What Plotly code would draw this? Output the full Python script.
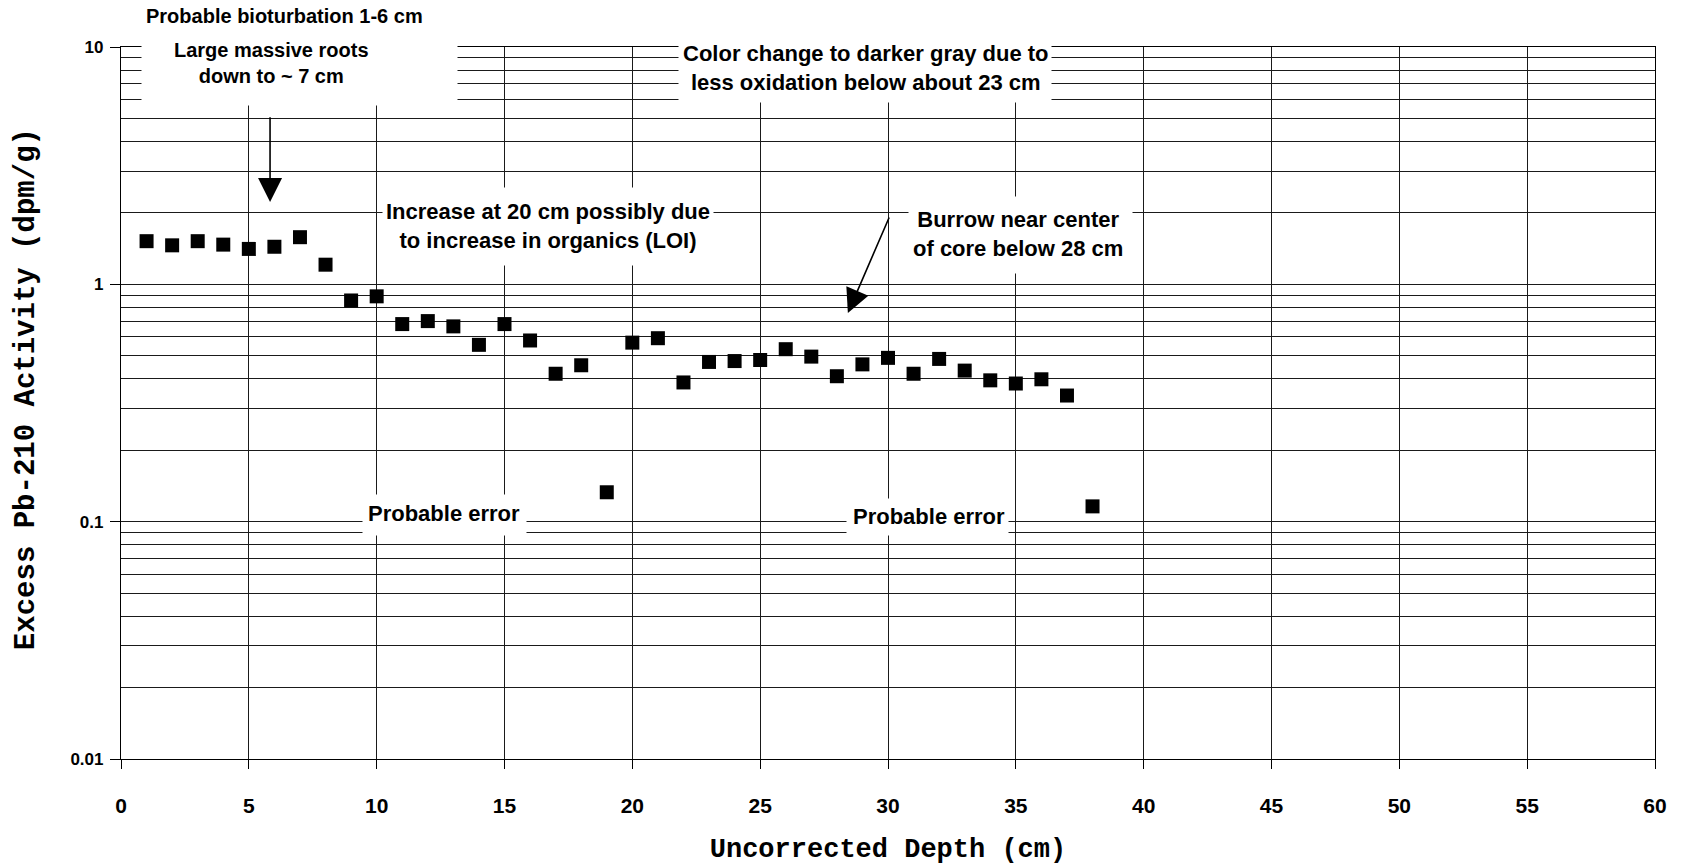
import plotly.graph_objects as go

# ---- data ----
depth_cm = list(range(1, 39))
excess_pb210 = [1.52, 1.46, 1.52, 1.47, 1.41, 1.44, 1.58, 1.21, 0.855, 0.89,
                0.68, 0.70, 0.665, 0.556, 0.68, 0.58, 0.42, 0.456, 0.133, 0.568,
                0.593, 0.386, 0.471, 0.475, 0.48, 0.533, 0.496, 0.41, 0.46, 0.49,
                0.42, 0.485, 0.433, 0.394, 0.382, 0.398, 0.34, 0.116]

y_major_vals = [0.01, 0.1, 1, 10]
y_major_text = ["0.01", "0.1", "1", "10"]
y_minor_vals = [m * 10 ** e for e in (-2, -1, 0) for m in range(2, 10)]

x_title = "Uncorrected Depth (cm)"
y_title = "Excess Pb-210 Activity (dpm/g)"

GRID = "#1a1a1a"
ann_font = dict(family="Liberation Sans, Arial, sans-serif", size=22, color="black", weight="bold")
ann_font_small = dict(family="Liberation Sans, Arial, sans-serif", size=20, color="black", weight="bold")
title_font_x = dict(family="Courier New, Liberation Mono, monospace", size=27, color="black", weight="bold")
title_font_y = dict(family="Courier New, Liberation Mono, monospace", size=29, color="black", weight="bold")

fig = go.Figure()
fig.add_trace(go.Scatter(
    x=depth_cm, y=excess_pb210, mode="markers",
    marker=dict(symbol="square", size=14, color="black", line=dict(width=0)),
    showlegend=False, cliponaxis=False,
))

annotations = []

def box(x, yp, w, h):
    annotations.append(dict(x=x, y=yp, xref="x", yref="paper", text=" ", showarrow=False,
                            bgcolor="white", width=w, height=h, borderpad=0,
                            xanchor="center", yanchor="middle", font=dict(size=2)))

def label(x, yp, text, font=ann_font):
    annotations.append(dict(x=x, y=yp, xref="x", yref="paper", text=text, showarrow=False,
                            font=font, align="center", xanchor="center", yanchor="middle"))

# white boxes that interrupt the grid
box(7.0, 0.965, 315, 66)
box(29.1, 0.9656, 372, 61)
box(16.7, 0.748, 330, 77)
box(35.2, 0.736, 223, 76)
box(12.65, 0.3427, 163, 40)
box(31.54, 0.340, 161, 36)

# texts
label(6.4, 1.043, "Probable bioturbation 1-6 cm", ann_font_small)
label(5.9, 0.977, "Large massive roots<br>down to ~ 7 cm", ann_font_small)
label(29.15, 0.970, "Color change to darker gray due to<br>less oxidation below about 23 cm")
label(16.7, 0.748, "Increase at 20 cm possibly due<br>to increase in organics (LOI)")
label(35.1, 0.737, "Burrow near center<br>of core below 28 cm")
label(12.65, 0.345, "Probable error")
label(31.6, 0.340, "Probable error")

# arrows (y in log10 units)
annotations.append(dict(x=5.83, y=0.347, xref="x", yref="y", ax=5.83, ay=0.71,
                        axref="x", ayref="y", text="", showarrow=True, arrowhead=2,
                        arrowsize=3.0, arrowwidth=1.6, arrowcolor="black", standoff=0))
annotations.append(dict(x=28.43, y=-0.121, xref="x", yref="y", ax=30.07, ay=0.288,
                        axref="x", ayref="y", text="", showarrow=True, arrowhead=2,
                        arrowsize=3.0, arrowwidth=1.6, arrowcolor="black", standoff=0))

# y-axis title (rotated text, left of the tick labels)
annotations.append(dict(x=-0.0615, y=0.519, xref="paper", yref="paper", text=y_title,
                        textangle=-90, showarrow=False, font=title_font_y,
                        xanchor="center", yanchor="middle"))

fig.update_layout(
    width=1691, height=867,
    margin=dict(l=121, r=36, t=47, b=108),
    paper_bgcolor="white", plot_bgcolor="white",
    annotations=annotations,
    xaxis=dict(
        range=[0, 60], tick0=0, dtick=5, showgrid=True, gridcolor=GRID, gridwidth=1.2,
        zeroline=False, showline=True, linecolor="black", linewidth=1.2, mirror=True,
        ticks="outside", ticklen=9, tickcolor="black", tickwidth=1.2,
        ticklabelstandoff=19, automargin=False,
        tickfont=dict(family="Liberation Sans, Arial, sans-serif", size=21, color="black", weight="bold"),
        title=dict(text=x_title, font=title_font_x, standoff=21),
    ),
    yaxis=dict(
        type="log", range=[-2, 1], tickmode="array", tickvals=y_major_vals, ticktext=y_major_text,
        showgrid=True, gridcolor=GRID, gridwidth=1.2,
        zeroline=False, showline=True, linecolor="black", linewidth=1.2, mirror=True,
        ticks="outside", ticklen=10, tickcolor="black", tickwidth=1.2,
        ticklabelstandoff=3, automargin=False,
        tickfont=dict(family="Liberation Sans, Arial, sans-serif", size=17, color="black", weight="bold"),
        minor=dict(tickmode="array", tickvals=y_minor_vals, showgrid=True, gridcolor=GRID,
                   gridwidth=1.2, ticks=""),
    ),
)

fig.write_html("out.html", config={"displayModeBar": False},
               post_script="document.body.style.margin='0px';document.body.style.overflow='hidden';")
